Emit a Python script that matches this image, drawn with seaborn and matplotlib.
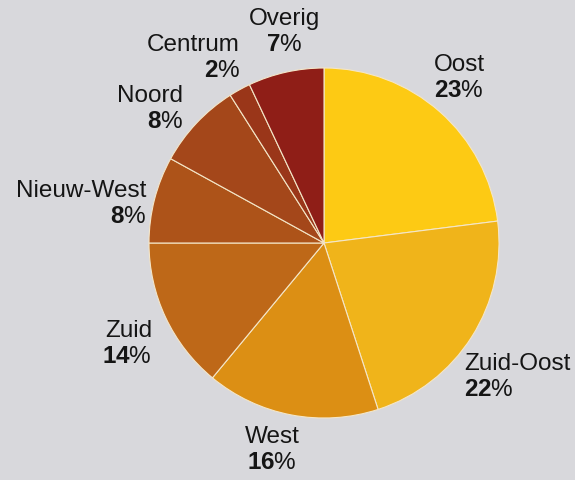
import matplotlib
matplotlib.use("Agg")
import matplotlib.pyplot as plt
import seaborn as sns

# data
regions = ["Oost", "Zuid-Oost", "West", "Zuid", "Nieuw-West", "Noord", "Centrum", "Overig"]
shares = [23, 22, 16, 14, 8, 8, 2, 7]
colors = ["#FDCA14", "#F0B41A", "#DC8F14", "#BE6818", "#AD5319", "#A4471A", "#9A3619", "#8F1E17"]

# label layout: anchor in pixels from top-left, and alignment
label_pos = {
    "Oost": (434, 78, "left"),
    "Zuid-Oost": (464, 377, "left"),
    "West": (272, 450, "center"),
    "Zuid": (152, 344, "right"),
    "Nieuw-West": (146, 204, "right"),
    "Noord": (183, 109, "right"),
    "Centrum": (240, 58, "right"),
    "Overig": (284, 32, "center"),
}

W, H = 575, 481
bg = "#D8D8DC"

sns.set_style("white")
plt.rcParams["font.family"] = ["Liberation Sans", "DejaVu Sans"]
plt.rcParams["mathtext.fontset"] = "custom"
plt.rcParams["mathtext.rm"] = "Liberation Sans"
plt.rcParams["mathtext.bf"] = "Liberation Sans:bold"

fig = plt.figure(figsize=(W / 100, H / 100), dpi=100, facecolor=bg)
ax = fig.add_axes([0, 0, 1, 1])
ax.set_facecolor(bg)

ax.pie(shares, colors=colors, startangle=90, counterclock=False,
       center=(324, H - 244), radius=175,
       wedgeprops=dict(edgecolor="#F4E6C8", linewidth=0.8))
ax.set_xlim(0, W)
ax.set_ylim(0, H)
ax.set_aspect("equal")
ax.axis("off")

for name, val in zip(regions, shares):
    x, y, al = label_pos[name]
    ax.text(x, H - y, name + "\n" + r"$\mathbf{" + str(val) + "}$%",
            ha=al, multialignment=al, va="center", fontsize=17.5,
            color="#151515", linespacing=1.2)

fig.savefig("out.png", dpi=100, facecolor=bg)
